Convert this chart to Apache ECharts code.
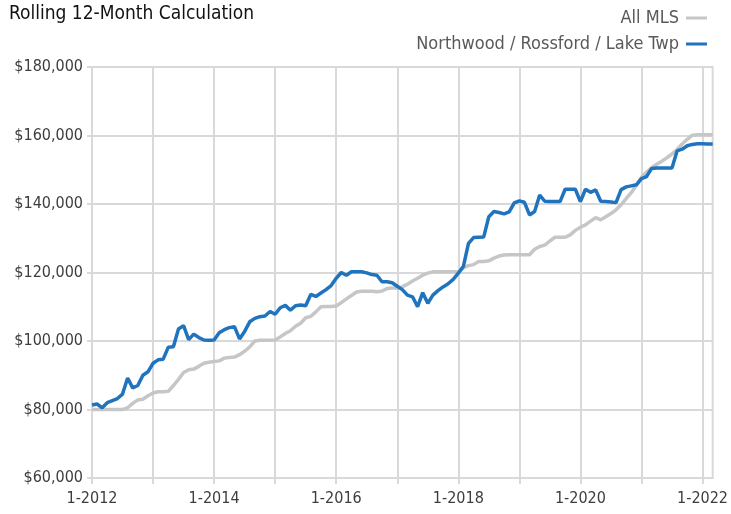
<!DOCTYPE html>
<html>
<head>
<meta charset="utf-8">
<script src="https://cdn.jsdelivr.net/npm/echarts@6/dist/echarts.min.js"></script>
<style>
  html, body { margin: 0; padding: 0; background: #ffffff; }
  #chart { width: 731px; height: 514px; }
</style>
</head>
<body>
<div id="chart"></div>
<script>
// Monthly periods, 1-2012 through 3-2022
const startYear = 2012;
const monthCount = 123;
const months = [];
for (let i = 0; i < monthCount; i++) {
  months.push(((i % 12) + 1) + '-' + (startYear + Math.floor(i / 12)));
}

// Rolling 12-month median sale price, All MLS
const allMls = [
  80000, 80000, 80000, 80000, 80000, 80000, 80000, 80500, 81800, 82800, 83000, 84000,
  84800, 85200, 85200, 85300, 87000, 88800, 90800, 91600, 91800, 92600, 93500, 93800,
  94000, 94200, 95000, 95200, 95300, 96000, 97000, 98300, 100000, 100200, 100200, 100200,
  100300, 101200, 102200, 103000, 104300, 105200, 106800, 107200, 108500, 110000, 110100, 110100,
  110200, 111200, 112300, 113300, 114300, 114500, 114500, 114500, 114400, 114600, 115300, 115500,
  115500, 115800, 116600, 117500, 118300, 119200, 119800, 120200, 120200, 120200, 120200, 120200,
  120200, 121400, 122000, 122300, 123200, 123200, 123400, 124200, 124800, 125100, 125200, 125200,
  125200, 125200, 125200, 126800, 127600, 128000, 129200, 130300, 130300, 130300, 131000, 132300,
  133200, 133900, 135000, 136000, 135400, 136300, 137200, 138300, 139800, 141600, 143300, 145500,
  147800, 149300, 150600, 151600, 152500, 153500, 154600, 155900, 157500, 158900, 160100, 160200,
  160200, 160200, 160200
];

// Rolling 12-month median sale price, Northwood / Rossford / Lake Twp
const northwood = [
  81300, 81600, 80500, 82000, 82600, 83200, 84500, 89200, 86300, 87000, 90000, 91000,
  93500, 94500, 94700, 98200, 98300, 103500, 104500, 100400, 102000, 101000, 100300, 100200,
  100300, 102400, 103300, 103900, 104200, 100600, 102800, 105600, 106600, 107100, 107300, 108600,
  107800, 109700, 110400, 109000, 110300, 110500, 110300, 113600, 113000, 114000, 115000, 116200,
  118300, 120000, 119200, 120200, 120200, 120200, 119900, 119400, 119200, 117300, 117300, 117000,
  116000, 115000, 113400, 112900, 110000, 114100, 111000, 113400, 114700, 115800, 116700, 118000,
  119800, 121800, 128500, 130200, 130300, 130400, 136300, 137800, 137500, 137100, 137700, 140300,
  140900, 140500, 136800, 137800, 142600, 140800, 140700, 140700, 140700, 144300, 144300, 144300,
  140700, 144300, 143400, 144100, 140800, 140700, 140600, 140400, 144200, 145000, 145300, 145600,
  147400, 148000, 150400, 150500, 150500, 150500, 150500, 155500, 156000, 157000, 157400, 157600,
  157600, 157500, 157500
];

// Value axis ticks
const yMin = 60000;
const yMax = 180000;
const yStep = 20000;

const FONT = '"DejaVu Sans Condensed", "Liberation Sans Narrow", sans-serif';
const GRID_COLOR = '#d9d9d9';

const chart = echarts.init(document.getElementById('chart'));
chart.setOption({
  animation: false,
  backgroundColor: '#ffffff',
  title: {
    text: 'Rolling 12-Month Calculation',
    left: 4,
    top: 0,
    textStyle: { fontFamily: FONT, fontSize: 19, fontWeight: 'normal', color: '#111111' }
  },
  legend: {
    orient: 'vertical',
    right: 19,
    top: 4,
    align: 'right',
    itemGap: 8,
    itemWidth: 21,
    itemHeight: 3,
    icon: 'rect',
    textStyle: { fontFamily: FONT, fontSize: 18, color: '#595959', padding: [0, 2, 0, 0] },
    data: ['All MLS', 'Northwood / Rossford / Lake Twp']
  },
  grid: {
    left: 92,
    right: 15,
    top: 67,
    bottom: 36,
    show: true,
    borderColor: GRID_COLOR,
    borderWidth: 2
  },
  xAxis: {
    type: 'category',
    data: months,
    boundaryGap: false,
    axisLine: { show: true, lineStyle: { color: GRID_COLOR, width: 2 } },
    axisTick: { show: true, interval: 11, length: 6, lineStyle: { color: GRID_COLOR, width: 2 } },
    axisLabel: { interval: 23, color: '#3d3d3d', fontFamily: FONT, fontSize: 16, margin: 13 },
    splitLine: { show: true, interval: 11, lineStyle: { color: GRID_COLOR, width: 2 } }
  },
  yAxis: {
    type: 'value',
    min: yMin,
    max: yMax,
    interval: yStep,
    axisLine: { show: false },
    axisTick: { show: true, length: 5, lineStyle: { color: GRID_COLOR, width: 2 } },
    axisLabel: {
      color: '#3d3d3d',
      fontFamily: FONT,
      fontSize: 16,
      margin: 9,
      formatter: v => '$' + v.toLocaleString('en-US')
    },
    splitLine: { show: true, lineStyle: { color: GRID_COLOR, width: 2 } }
  },
  series: [
    {
      name: 'All MLS',
      type: 'line',
      data: allMls,
      symbol: 'none',
      color: '#c6c6c6',
      lineStyle: { width: 3.5, color: '#c6c6c6' },
      z: 2
    },
    {
      name: 'Northwood / Rossford / Lake Twp',
      type: 'line',
      data: northwood,
      symbol: 'none',
      color: '#1f74bd',
      lineStyle: { width: 3.5, color: '#1f74bd' },
      z: 3
    }
  ]
});
</script>
</body>
</html>
